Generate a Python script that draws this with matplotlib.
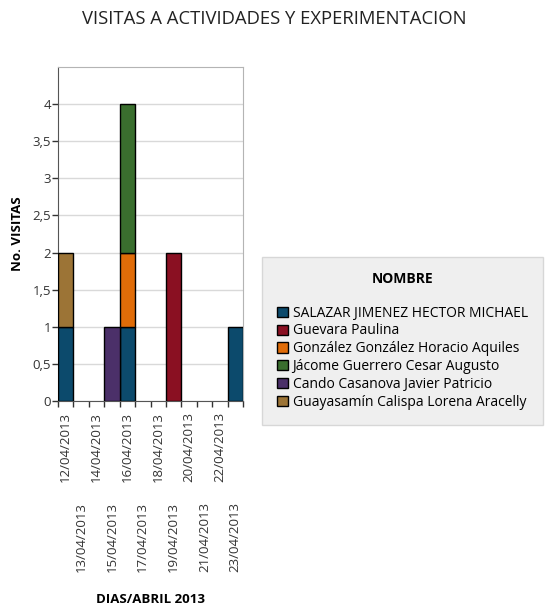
import numpy as np
import matplotlib
matplotlib.use('Agg')
import matplotlib.pyplot as plt

plt.rcParams['font.family'] = ['Open Sans', 'DejaVu Sans']

# -----------------
# Data
# -----------------

dias = ['12/04/2013', '13/04/2013', '14/04/2013', '15/04/2013', '16/04/2013', '17/04/2013',
        '18/04/2013', '19/04/2013', '20/04/2013', '21/04/2013', '22/04/2013', '23/04/2013']

nombres = ['SALAZAR JIMENEZ HECTOR MICHAEL', 'Guevara Paulina',
           'González González Horacio Aquiles', 'Jácome Guerrero Cesar Augusto',
           'Cando Casanova Javier Patricio', 'Guayasamín Calispa Lorena Aracelly']

salazar    = [1, 0, 0, 0, 1, 0, 0, 0, 0, 0, 0, 1]
guevara    = [0, 0, 0, 0, 0, 0, 0, 2, 0, 0, 0, 0]
gonzalez   = [0, 0, 0, 0, 1, 0, 0, 0, 0, 0, 0, 0]
jacome     = [0, 0, 0, 0, 2, 0, 0, 0, 0, 0, 0, 0]
cando      = [0, 0, 0, 1, 0, 0, 0, 0, 0, 0, 0, 0]
guayasamin = [1, 0, 0, 0, 0, 0, 0, 0, 0, 0, 0, 0]

series = [salazar, guevara, gonzalez, jacome, cando, guayasamin]
colores = ['#0c4a6c', '#8a1022', '#e06c08', '#3a6e2e', '#4b3069', '#9c7436']

# -----------------
# Plot
# -----------------

fig = plt.figure(figsize=(5.49, 6.07), dpi=100)
ax = fig.add_axes([58 / 549, 1 - 401 / 607, 185 / 549, 334 / 607])

x = np.arange(len(dias))
bottom = np.zeros(len(dias))
for nombre, valores, color in zip(nombres, series, colores):
    valores = np.array(valores, dtype=float)
    m = valores > 0  # skip empty segments so no flat outlines are drawn
    ax.bar(x[m], valores[m], width=1.0, bottom=bottom[m], color=color, edgecolor='black',
           linewidth=1.0, label=nombre, zorder=3)
    bottom += valores

ax.set_xlim(-0.5, len(dias) - 0.5)
ax.set_ylim(0, 4.5)

# y axis, comma decimals
yt = np.arange(0, 4.01, 0.5)
ax.set_yticks(yt)
ax.set_yticklabels([f'{v:g}'.replace('.', ',') for v in yt])
ax.tick_params(axis='y', length=4, width=1, labelsize=9.5, color='#333333',
               labelcolor='#333333', pad=1)
ax.grid(axis='y', color='#d9d9d9', linewidth=1, zorder=0)

# staggered date labels: even days on first row, odd days on second row
ax.set_xticks(x[::2])
ax.set_xticklabels(dias[::2], rotation=90)
ax.set_xticks(x[1::2], minor=True)
ax.set_xticklabels(dias[1::2], minor=True, rotation=90)
ax.tick_params(axis='x', which='major', length=0, pad=8, labelsize=9.5, labelcolor='#333333')
ax.tick_params(axis='x', which='minor', length=0, pad=73, labelsize=9.5, labelcolor='#333333')

# tick marks on day boundaries
sec = ax.secondary_xaxis('bottom')
sec.set_xticks(np.arange(-0.5, len(dias), 1.0))
sec.tick_params(length=4, width=1, color='#333333', labelbottom=False)
sec.spines['bottom'].set_visible(False)

for s in ax.spines.values():
    s.set_color('#b4b4b4')
ax.spines['left'].set_color('#555555')
ax.spines['bottom'].set_color('#555555')

ax.set_ylabel('No. VISITAS', fontsize=9.5, fontweight='bold', labelpad=6)
ax.set_xlabel('DIAS/ABRIL 2013', fontsize=9.5, fontweight='bold', labelpad=15)

fig.suptitle('VISITAS A ACTIVIDADES Y EXPERIMENTACION', fontsize=13.3, y=0.983, color='#222222')

leg = fig.legend(loc='upper left', bbox_to_anchor=(262 / 549, 1 - 257 / 607),
                 title='NOMBRE', fontsize=10, title_fontproperties={'weight': 'bold', 'size': 10},
                 frameon=True, fancybox=False, facecolor='#ececec', edgecolor='#d0d0d0',
                 handlelength=0.75, handleheight=0.75, handletextpad=0.35, labelspacing=0.2,
                 borderpad=1.1, borderaxespad=0, alignment='center')
leg.get_frame().set_linewidth(1)
leg._legend_box.sep = 14

fig.savefig('out.png', dpi=100)
